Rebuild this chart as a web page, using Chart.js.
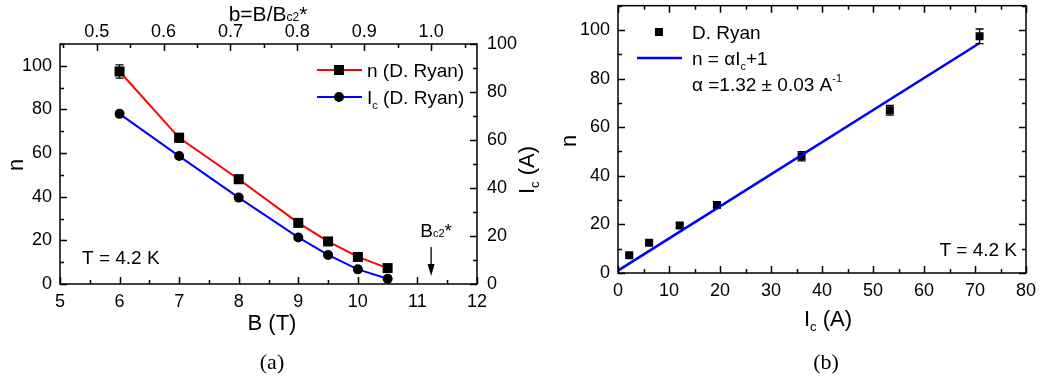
<!DOCTYPE html>
<html>
<head>
<meta charset="utf-8">
<script src="https://cdn.jsdelivr.net/npm/chart.js@4.4.0/dist/chart.umd.min.js"></script>
<style>
  html, body { margin: 0; padding: 0; background: #fff; }
  body { width: 1043px; height: 383px; position: relative; overflow: hidden; }
  canvas { position: absolute; top: 0; }
  #panelA { left: 0; }
  #panelB { left: 520px; }
</style>
</head>
<body>
<canvas id="panelA" width="545" height="383"></canvas>
<canvas id="panelB" width="523" height="383"></canvas>
<script>
// measured at T = 4.2 K
const fieldB = [6, 7, 8, 9, 9.5, 10, 10.5];
const nValues = [97.4, 67.0, 48.0, 28.0, 19.5, 12.4, 7.3];
const nErrors = [3.0, 2.0, 1.9, 1.0, 0.8, 0.6, 0.5];
const icValues = [70.9, 53.3, 36.0, 19.4, 12.1, 6.1, 2.2];

// linear fit n = alpha*Ic + 1
const alpha = 1.32;
const alphaErr = 0.03;
const fitOffset = 1;
const fitRange = [0, 71];

const bc2Star = 11.23;

// axis ticks
const fieldTicks = [5, 6, 7, 8, 9, 10, 11, 12];
const reducedTicks = [0.5, 0.6, 0.7, 0.8, 0.9, 1.0];
const nTicks = [0, 20, 40, 60, 80, 100];
const icRightTicks = [0, 20, 40, 60, 80, 100];
const icTicks = [0, 10, 20, 30, 40, 50, 60, 70, 80];

const FONT = '"Liberation Sans", Arial, sans-serif';
const TICK_FONT = { family: FONT, size: 18 };

function setFont(ctx, size, family) {
  ctx.font = size + 'px ' + (family || FONT);
}

// text made of pieces with their own size and baseline shift (sub/superscripts)
function richWidth(ctx, parts) {
  let w = 0;
  parts.forEach(p => { setFont(ctx, p.s); w += ctx.measureText(p.t).width; });
  return w;
}
function drawRich(ctx, parts, x, y, align) {
  const base = y + parts[0].s * 0.716 / 2;
  const w = richWidth(ctx, parts);
  let cx = align === 'center' ? x - w / 2 : align === 'right' ? x - w : x;
  ctx.textAlign = 'left';
  ctx.textBaseline = 'alphabetic';
  ctx.fillStyle = '#000';
  parts.forEach(p => {
    setFont(ctx, p.s);
    ctx.fillText(p.t, cx, base + (p.dy || 0));
    cx += ctx.measureText(p.t).width;
  });
}
function drawRotated(ctx, parts, x, y) {
  ctx.save();
  ctx.translate(x, y);
  ctx.rotate(-Math.PI / 2);
  drawRich(ctx, parts, 0, 0, 'center');
  ctx.restore();
}
function drawCaption(ctx, text, x, y) {
  setFont(ctx, 22, '"Liberation Serif", "DejaVu Serif", serif');
  ctx.fillStyle = '#000';
  ctx.textAlign = 'center';
  ctx.textBaseline = 'middle';
  ctx.fillText(text, x, y);
}

function minorsOf(major, step, lo, hi) {
  const out = [];
  major.forEach(v => [v - step / 2, v + step / 2].forEach(m => {
    if (m >= lo - 1e-9 && m <= hi + 1e-9 && !out.some(o => Math.abs(o - m) < 1e-9)) out.push(m);
  }));
  return out;
}

// ticks pointing into the plot area
function inwardTicks(chart, scale, values, side, len) {
  const { ctx, chartArea: a } = chart;
  ctx.beginPath();
  values.forEach(v => {
    const p = Math.round(scale.getPixelForValue(v)) + 0.5;
    if (side === 'bottom') { ctx.moveTo(p, a.bottom); ctx.lineTo(p, a.bottom - len); }
    if (side === 'top') { ctx.moveTo(p, a.top); ctx.lineTo(p, a.top + len); }
    if (side === 'left') { ctx.moveTo(a.left, p); ctx.lineTo(a.left + len, p); }
    if (side === 'right') { ctx.moveTo(a.right, p); ctx.lineTo(a.right - len, p); }
  });
  ctx.stroke();
}
function axisFrame(chart, sides) {
  const { ctx, chartArea: a } = chart;
  ctx.save();
  ctx.strokeStyle = '#000';
  ctx.lineWidth = 1.5;
  ctx.strokeRect(a.left, a.top, a.right - a.left, a.bottom - a.top);
  sides.forEach(s => {
    inwardTicks(chart, s.scale, s.major, s.side, 7);
    inwardTicks(chart, s.scale, s.minor, s.side, 4);
  });
  ctx.restore();
}
function errorBars(chart, xs, ys, errs, xScale, yScale) {
  const ctx = chart.ctx;
  ctx.save();
  ctx.strokeStyle = '#000';
  ctx.lineWidth = 1.3;
  ctx.beginPath();
  xs.forEach((xv, i) => {
    const x = xScale.getPixelForValue(xv);
    const y0 = yScale.getPixelForValue(ys[i] - errs[i]);
    const y1 = yScale.getPixelForValue(ys[i] + errs[i]);
    ctx.moveTo(x, y0); ctx.lineTo(x, y1);
    ctx.moveTo(x - 4, y0); ctx.lineTo(x + 4, y0);
    ctx.moveTo(x - 4, y1); ctx.lineTo(x + 4, y1);
  });
  ctx.stroke();
  ctx.restore();
}

// linear scale with a fixed tick list and a fixed box size
function fixedScale(opts, ticks, size, fmt) {
  return Object.assign({
    type: 'linear',
    grid: { display: false, drawTicks: false },
    border: { display: false },
    afterBuildTicks: s => { s.ticks = ticks.map(v => ({ value: v })); },
    afterFit: s => {
      if (s.isHorizontal()) s.height = size; else s.width = size;
      s.paddingLeft = s.paddingRight = s.paddingTop = s.paddingBottom = 0;
    }
  }, opts, { ticks: Object.assign({
    font: TICK_FONT, color: '#000', autoSkip: false, maxRotation: 0,
    callback: fmt || (v => String(v))
  }, opts.ticks || {}) });
}

// ---------- (a) n and Ic versus field ----------
const decorA = {
  id: 'decorA',
  afterDatasetsDraw(chart) {
    const { ctx } = chart;
    const sx = chart.scales.x, sy = chart.scales.y, sy2 = chart.scales.y2, sb = chart.scales.xb;
    errorBars(chart, fieldB, nValues, nErrors, sx, sy);
    axisFrame(chart, [
      { scale: sx, side: 'bottom', major: fieldTicks, minor: minorsOf(fieldTicks, 1, 5, 12) },
      { scale: sb, side: 'top', major: reducedTicks, minor: minorsOf(reducedTicks, 0.1, sb.min, sb.max) },
      { scale: sy, side: 'left', major: nTicks, minor: minorsOf(nTicks, 20, 0, 110) },
      { scale: sy2, side: 'right', major: icRightTicks, minor: minorsOf(icRightTicks, 20, 0, 100) }
    ]);

    // axis titles
    drawRich(ctx, [{ t: 'b=B/B', s: 21 }, { t: 'c2', s: 12 }, { t: '*', s: 21 }], 268, 13, 'center');
    drawRotated(ctx, [{ t: 'n', s: 22 }], 15, 165);
    drawRich(ctx, [{ t: 'B (T)', s: 22 }], 272, 322, 'center');
    drawRotated(ctx, [{ t: 'I', s: 22 }, { t: 'c', s: 13, dy: 5 }, { t: ' (A)', s: 22 }], 526, 170);

    // legend
    ctx.save();
    ctx.lineWidth = 2;
    ctx.strokeStyle = '#ff0000';
    ctx.beginPath(); ctx.moveTo(317, 70); ctx.lineTo(362, 70); ctx.stroke();
    ctx.strokeStyle = '#0000ff';
    ctx.beginPath(); ctx.moveTo(317, 97); ctx.lineTo(362, 97); ctx.stroke();
    ctx.fillStyle = '#000';
    ctx.fillRect(334, 65, 10, 10);
    ctx.beginPath(); ctx.arc(339, 97, 5, 0, Math.PI * 2); ctx.fill();
    ctx.restore();
    drawRich(ctx, [{ t: 'n (D. Ryan)', s: 19 }], 367, 70, 'left');
    drawRich(ctx, [{ t: 'I', s: 19 }, { t: 'c', s: 11, dy: 5 }, { t: ' (D. Ryan)', s: 19 }], 367, 97, 'left');

    drawRich(ctx, [{ t: 'T = 4.2 K', s: 19 }], 82, 257, 'left');

    // upper critical field marker
    const ax = sx.getPixelForValue(bc2Star);
    drawRich(ctx, [{ t: 'B', s: 19 }, { t: 'c2', s: 11 }, { t: '*', s: 19 }], ax + 5, 230, 'center');
    ctx.save();
    ctx.strokeStyle = '#000';
    ctx.fillStyle = '#000';
    ctx.lineWidth = 1.3;
    ctx.beginPath(); ctx.moveTo(ax, 247); ctx.lineTo(ax, 266); ctx.stroke();
    ctx.beginPath(); ctx.moveTo(ax - 3.5, 264); ctx.lineTo(ax + 3.5, 264); ctx.lineTo(ax, 276); ctx.closePath(); ctx.fill();
    ctx.restore();

    drawCaption(ctx, '(a)', 272, 363);
  }
};

new Chart(document.getElementById('panelA'), {
  type: 'line',
  data: {
    datasets: [
      {
        label: 'n (D. Ryan)',
        data: fieldB.map((b, i) => ({ x: b, y: nValues[i] })),
        xAxisID: 'x', yAxisID: 'y',
        borderColor: '#ff0000', borderWidth: 2, tension: 0,
        pointStyle: 'rect', pointRadius: 7.07, pointBackgroundColor: '#000', pointBorderWidth: 0
      },
      {
        label: 'Ic (D. Ryan)',
        data: fieldB.map((b, i) => ({ x: b, y: icValues[i] })),
        xAxisID: 'x', yAxisID: 'y2',
        borderColor: '#0000ff', borderWidth: 2, tension: 0,
        pointStyle: 'circle', pointRadius: 5, pointBackgroundColor: '#000', pointBorderWidth: 0
      }
    ]
  },
  options: {
    responsive: false,
    animation: false,
    devicePixelRatio: 1,
    layout: { padding: 0 },
    plugins: { legend: { display: false }, tooltip: { enabled: false } },
    scales: {
      x: fixedScale({ position: 'bottom', min: 5, max: 12, ticks: { padding: 7 } }, fieldTicks, 99),
      xb: fixedScale({ position: 'top', min: 5 / bc2Star, max: 12 / bc2Star, ticks: { padding: 1 } },
        reducedTicks, 44, v => v.toFixed(1)),
      y: fixedScale({ position: 'left', min: 0, max: 110, ticks: { padding: 8 } }, nTicks, 60),
      y2: fixedScale({ position: 'right', min: 0, max: 100, ticks: { padding: 10 } }, icRightTicks, 68)
    }
  },
  plugins: [decorA]
});

// ---------- (b) n versus Ic ----------
const decorB = {
  id: 'decorB',
  afterDatasetsDraw(chart) {
    const { ctx } = chart;
    const sx = chart.scales.x, sy = chart.scales.y;
    errorBars(chart, icValues, nValues, nErrors, sx, sy);
    const xMinor = minorsOf(icTicks, 10, 0, 80);
    const yMinor = minorsOf(nTicks, 20, 0, 110);
    axisFrame(chart, [
      { scale: sx, side: 'bottom', major: icTicks, minor: xMinor },
      { scale: sx, side: 'top', major: icTicks, minor: xMinor },
      { scale: sy, side: 'left', major: nTicks, minor: yMinor },
      { scale: sy, side: 'right', major: nTicks, minor: yMinor }
    ]);

    drawRotated(ctx, [{ t: 'n', s: 22 }], 48, 141);
    drawRich(ctx, [{ t: 'I', s: 22 }, { t: 'c', s: 13, dy: 5 }, { t: ' (A)', s: 22 }], 308, 318, 'center');

    // legend
    ctx.save();
    ctx.fillStyle = '#000';
    ctx.fillRect(135, 28, 8, 8);
    ctx.strokeStyle = '#0000ff';
    ctx.lineWidth = 2.5;
    ctx.beginPath(); ctx.moveTo(117, 58); ctx.lineTo(162, 58); ctx.stroke();
    ctx.restore();
    drawRich(ctx, [{ t: 'D. Ryan', s: 19 }], 172, 32, 'left');
    drawRich(ctx, [{ t: 'n = αI', s: 19 }, { t: 'c', s: 11, dy: 5 }, { t: '+' + fitOffset, s: 19 }], 172, 58, 'left');
    drawRich(ctx, [
      { t: 'α =' + alpha.toFixed(2) + ' ± ' + alphaErr.toFixed(2) + ' A', s: 19 },
      { t: '-1', s: 11, dy: -9 }
    ], 172, 84, 'left');

    drawRich(ctx, [{ t: 'T = 4.2 K', s: 19 }], 497, 249, 'right');
    drawCaption(ctx, '(b)', 306, 363);
  }
};

new Chart(document.getElementById('panelB'), {
  type: 'scatter',
  data: {
    datasets: [
      {
        label: 'n = αIc+1',
        data: fitRange.map(v => ({ x: v, y: alpha * v + fitOffset })),
        showLine: true, borderColor: '#0000ff', borderWidth: 2.5,
        pointRadius: 0, order: 0
      },
      {
        label: 'D. Ryan',
        data: icValues.map((ic, i) => ({ x: ic, y: nValues[i] })),
        showLine: false,
        pointStyle: 'rect', pointRadius: 5.66, pointBackgroundColor: '#000', pointBorderWidth: 0,
        order: 1
      }
    ]
  },
  options: {
    responsive: false,
    animation: false,
    devicePixelRatio: 1,
    layout: { padding: { top: 3, right: 17, left: 0, bottom: 0 } },
    plugins: { legend: { display: false }, tooltip: { enabled: false } },
    scales: {
      x: fixedScale({ position: 'bottom', min: 0, max: 80, ticks: { padding: 7 } }, icTicks, 110),
      y: fixedScale({ position: 'left', min: 0, max: 110, ticks: { padding: 8 } }, nTicks, 98)
    }
  },
  plugins: [decorB]
});
</script>
</body>
</html>
